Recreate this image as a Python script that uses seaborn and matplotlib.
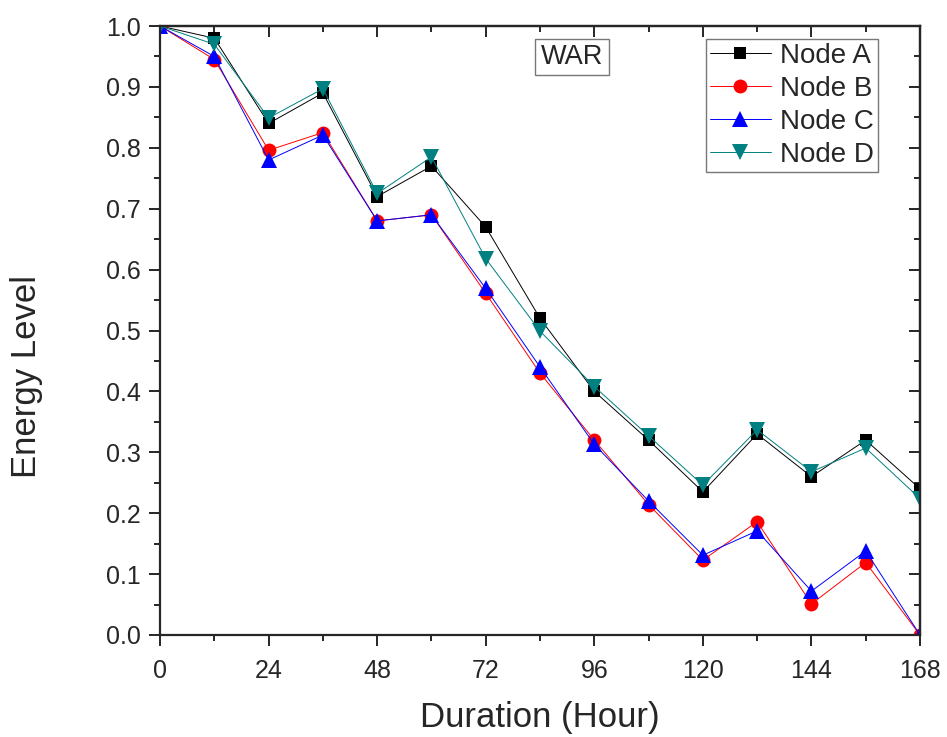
import numpy as np
import pandas as pd
import matplotlib
matplotlib.use("Agg")
import matplotlib.pyplot as plt
import seaborn as sns
from matplotlib.ticker import MultipleLocator, FormatStrFormatter

hours = [0, 12, 24, 36, 48, 60, 72, 84, 96, 108, 120, 132, 144, 156, 168]
node_a = [1.0, 0.98, 0.84, 0.89, 0.72, 0.77, 0.67, 0.52, 0.40, 0.32, 0.235, 0.33, 0.26, 0.32, 0.24]
node_b = [1.0, 0.945, 0.796, 0.825, 0.68, 0.69, 0.561, 0.43, 0.32, 0.214, 0.123, 0.186, 0.051, 0.119, 0.0]
node_c = [1.0, 0.95, 0.78, 0.821, 0.68, 0.69, 0.569, 0.44, 0.313, 0.22, 0.131, 0.171, 0.072, 0.138, 0.0]
node_d = [1.0, 0.97, 0.849, 0.897, 0.725, 0.785, 0.618, 0.499, 0.408, 0.327, 0.246, 0.337, 0.268, 0.307, 0.224]
names = ["Node A", "Node B", "Node C", "Node D"]

sns.set_style("ticks")
plt.rcParams['font.family'] = ['Liberation Sans', 'DejaVu Sans']

df = pd.concat([
    pd.DataFrame({"Hour": hours, "Energy": vals, "Node": n})
    for n, vals in zip(names, [node_a, node_b, node_c, node_d])
])

colors = {"Node A": "#000000", "Node B": "#ff0000", "Node C": "#0000ff", "Node D": "#008080"}
markers = {"Node A": "s", "Node B": "o", "Node C": "^", "Node D": "v"}
msizes = {"s": 9, "o": 10, "^": 11.5, "v": 11.5}

fig = plt.figure(figsize=(9.47, 7.37), dpi=100)
ax = fig.add_axes([0.169, 0.1384, 0.8025, 0.8263])

sns.lineplot(data=df, x="Hour", y="Energy", hue="Node", style="Node",
             palette=colors, markers=markers, dashes=False, ax=ax,
             linewidth=0.7, markersize=10, markeredgewidth=0)

for ln in ax.lines:
    m = ln.get_marker()
    if m in msizes:
        ln.set_markersize(msizes[m])

ax.set_xlim(0, 168)
ax.set_ylim(0, 1.0)
ax.xaxis.set_major_locator(MultipleLocator(24))
ax.xaxis.set_minor_locator(MultipleLocator(12))
ax.yaxis.set_major_locator(MultipleLocator(0.1))
ax.yaxis.set_minor_locator(MultipleLocator(0.05))
ax.yaxis.set_major_formatter(FormatStrFormatter('%.1f'))
ax.tick_params(which='both', direction='out', top=False, right=False, width=1.4,
               labelsize=18)
ax.tick_params(axis='x', which='both', pad=9)
ax.tick_params(axis='y', which='both', pad=6)
ax.tick_params(which='major', length=8)
ax.tick_params(which='minor', length=4.5)
for s in ax.spines.values():
    s.set_linewidth(1.6)

# mirrored inward ticks on top and right
secx = ax.secondary_xaxis('top')
secx.xaxis.set_major_locator(MultipleLocator(24))
secx.xaxis.set_minor_locator(MultipleLocator(12))
secx.tick_params(which='both', direction='in', labeltop=False, width=1.4)
secx.tick_params(which='major', length=8)
secx.tick_params(which='minor', length=4.5)
secx.spines['top'].set_linewidth(1.6)
secy = ax.secondary_yaxis('right')
secy.yaxis.set_major_locator(MultipleLocator(0.1))
secy.yaxis.set_minor_locator(MultipleLocator(0.05))
secy.tick_params(which='both', direction='in', labelright=False, width=1.4)
secy.tick_params(which='major', length=8)
secy.tick_params(which='minor', length=4.5)
secy.spines['right'].set_linewidth(1.6)

ax.set_xlabel("Duration (Hour)", fontsize=25)
ax.set_ylabel("Energy Level", fontsize=25)
ax.xaxis.set_label_coords(0.5, -0.108)
ax.yaxis.set_label_coords(-0.1535, 0.424)

leg = ax.legend(loc='upper right', bbox_to_anchor=(0.945, 0.9787), fontsize=20,
                frameon=True, fancybox=False, edgecolor='#555555',
                handlelength=2.2, borderpad=0.15, labelspacing=0.25,
                handletextpad=0.33, borderaxespad=0.0)
leg.get_frame().set_linewidth(1.0)
for h in leg.legend_handles:
    h.set_linewidth(0.7)

ax.text(0.542, 0.949, "WAR", transform=ax.transAxes, fontsize=19.5,
        ha='center', va='center',
        bbox=dict(boxstyle='square,pad=0.2', fc='white', ec='#777777', lw=1.0))

fig.savefig("out.png", dpi=100)
